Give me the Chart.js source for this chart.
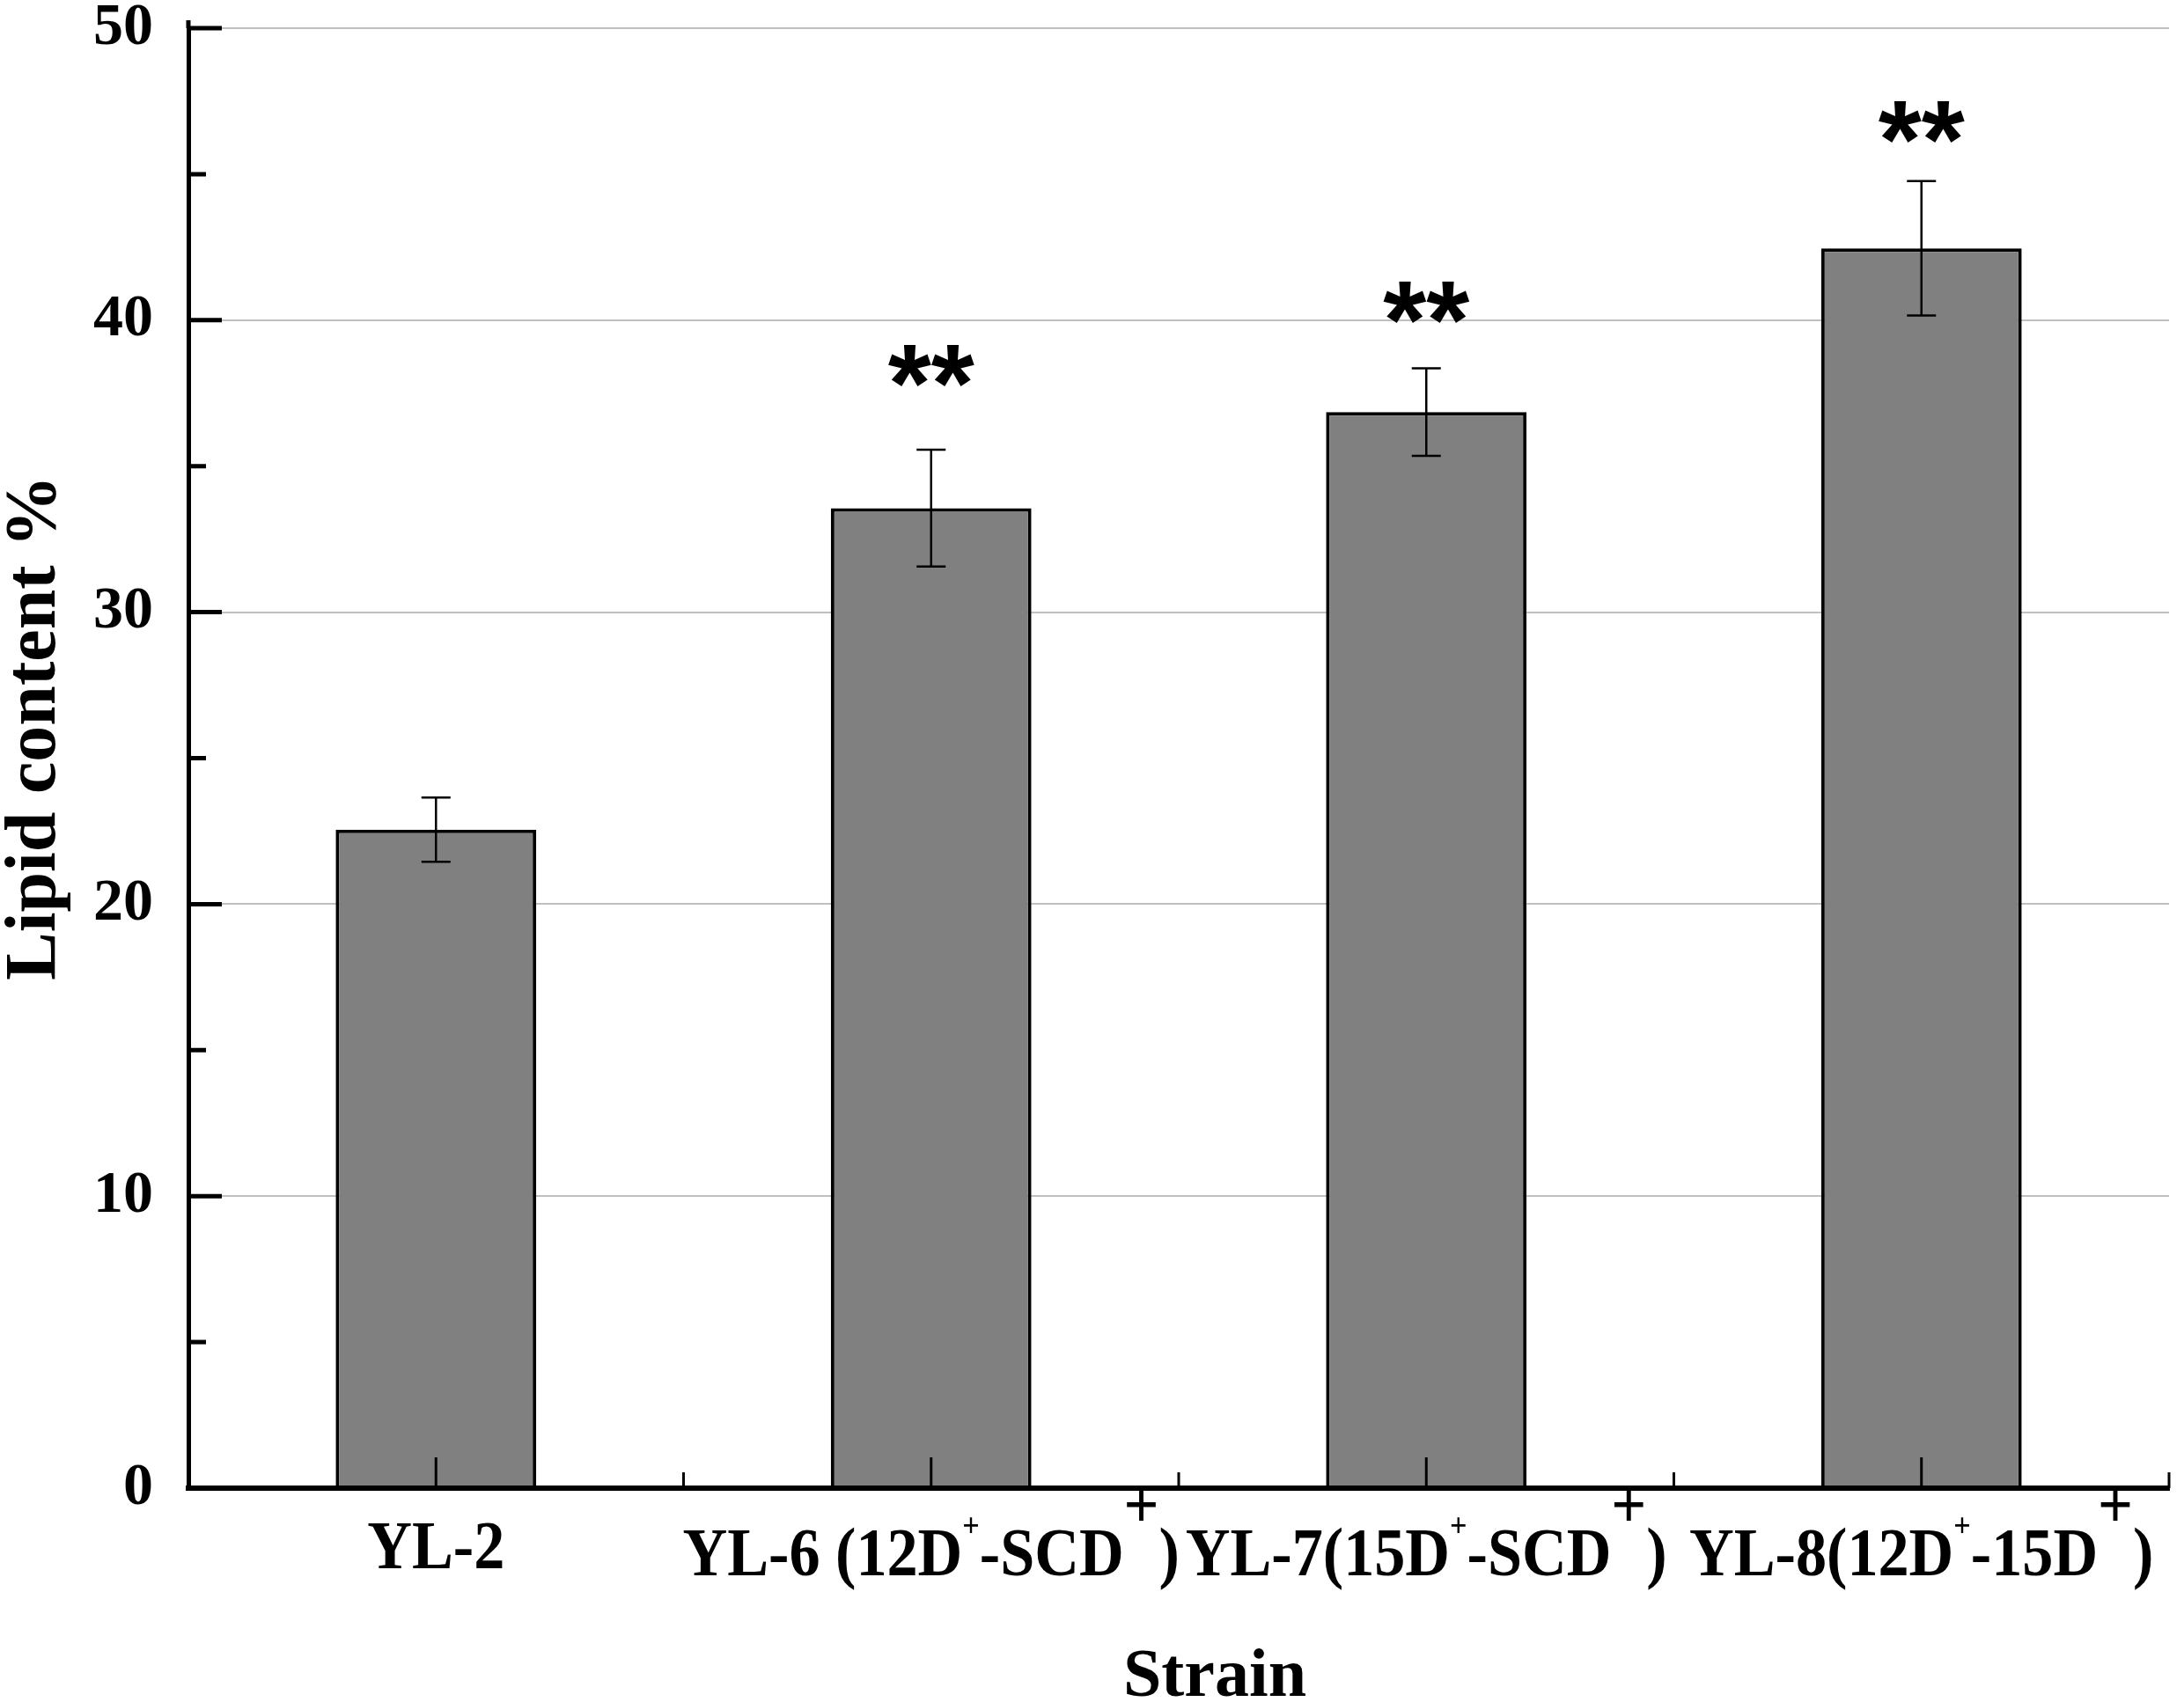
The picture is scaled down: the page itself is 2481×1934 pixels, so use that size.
<!DOCTYPE html>
<html><head><meta charset="utf-8">
<script src="https://cdn.jsdelivr.net/npm/chart.js@4.4.1/dist/chart.umd.min.js"></script>
<style>html,body{margin:0;padding:0;background:#fff;} canvas{display:block;}</style>
</head><body>
<canvas id="c" width="2481" height="1934" style="width:2481px;height:1934px"></canvas>
<script>
// ---- data ----
const categories = ['YL-2', 'YL-6 (12D⁺-SCD⁺)', 'YL-7(15D⁺-SCD⁺)', 'YL-8(12D⁺-15D⁺)'];
const lipidContent = [22.55, 33.56, 36.85, 42.46];
const lipidError = [1.1, 2.0, 1.5, 2.3];
const significance = ['', '**', '**', '**'];
const significanceY = [null, 38.45, 40.62, 46.8];
const yTicks = [0, 10, 20, 30, 40, 50];
const yMinorTicks = [5, 15, 25, 35, 45];
const xTitle = 'Strain';
const yTitle = 'Lipid content %';

const SERIF = '"Liberation Serif", "Times New Roman", Times, serif';
const SANS = '"Liberation Sans", Arial, sans-serif';

function drawRichLabel(ctx, text, cx, baseline) {
  const fs = 78, smallFs = 38, squeeze = 0.9;
  const segs = [];
  const chars = Array.from(text);
  let buf = '';
  for (let k = 0; k < chars.length; k++) {
    const ch = chars[k];
    if (ch === '⁺') {
      if (buf) { segs.push({ t: buf, kind: 'n' }); buf = ''; }
      segs.push({ t: '+', kind: chars[k + 1] === ')' ? 'big' : 'small' });
    } else buf += ch;
  }
  if (buf) segs.push({ t: buf, kind: 'n' });
  const fontFor = s => 'bold ' + (s.kind === 'small' ? smallFs : fs) + 'px ' + SERIF;
  let total = 0;
  segs.forEach(s => { ctx.font = fontFor(s); s.w = ctx.measureText(s.t).width; total += s.w; });
  ctx.save();
  ctx.translate(cx, baseline);
  ctx.scale(squeeze, 1);
  let xx = -total / 2;
  ctx.textAlign = 'left';
  ctx.textBaseline = 'alphabetic';
  segs.forEach(s => {
    ctx.font = fontFor(s);
    const raise = s.kind === 'small' ? 44 : (s.kind === 'big' ? 54 : 0);
    ctx.fillText(s.t, xx, -raise);
    xx += s.w;
  });
  ctx.restore();
}

const overlay = {
  id: 'overlay',
  afterDatasetsDraw(chart) {
    const { ctx, scales: { x, y } } = chart;
    ctx.save();
    ctx.strokeStyle = '#000';
    // error bars
    ctx.lineWidth = 2.5;
    lipidContent.forEach((v, i) => {
      const cx = x.getPixelForValue(i);
      const top = y.getPixelForValue(v + lipidError[i]);
      const bot = y.getPixelForValue(v - lipidError[i]);
      ctx.beginPath();
      ctx.moveTo(cx, top); ctx.lineTo(cx, bot);
      ctx.moveTo(cx - 16.5, top); ctx.lineTo(cx + 16.5, top);
      ctx.moveTo(cx - 16.5, bot); ctx.lineTo(cx + 16.5, bot);
      ctx.stroke();
    });
    // x-axis inward ticks
    const base = y.getPixelForValue(0);
    ctx.lineWidth = 3;
    ctx.beginPath();
    categories.forEach((c, i) => {
      const cx = x.getPixelForValue(i);
      ctx.moveTo(cx, base); ctx.lineTo(cx, base - 35);
      const bx = x.getPixelForValue(i + 0.5);
      ctx.moveTo(bx, base); ctx.lineTo(bx, base - 18);
    });
    ctx.stroke();
    // y-axis inward ticks
    const left = x.left;
    ctx.lineWidth = 5;
    ctx.beginPath();
    yTicks.forEach(v => { const py = y.getPixelForValue(v); ctx.moveTo(left, py); ctx.lineTo(left + 38, py); });
    yMinorTicks.forEach(v => { const py = y.getPixelForValue(v); ctx.moveTo(left, py); ctx.lineTo(left + 20, py); });
    // small overshoot of the y axis above the top tick
    ctx.moveTo(left, y.top); ctx.lineTo(left, y.top - 9);
    ctx.stroke();
    // significance stars
    ctx.fillStyle = '#000';
    ctx.font = 'bold 126px ' + SANS;
    ctx.textAlign = 'center';
    ctx.textBaseline = 'alphabetic';
    significance.forEach((s, i) => {
      if (!s) return;
      const cy = y.getPixelForValue(significanceY[i]);
      ctx.fillText(s, x.getPixelForValue(i), cy + 0.51 * 126);
    });
    ctx.restore();
  },
  afterDraw(chart) {
    const { ctx, scales: { x, y } } = chart;
    ctx.save();
    ctx.fillStyle = '#000';
    const base = y.getPixelForValue(0);
    categories.forEach((c, i) => {
      const hasSup = c.indexOf('⁺') >= 0;
      drawRichLabel(ctx, c, x.getPixelForValue(i), base + (hasSup ? 99 : 91));
    });
    // x title
    ctx.font = 'bold 78px ' + SERIF;
    ctx.textAlign = 'center';
    ctx.textBaseline = 'alphabetic';
    ctx.fillText(xTitle, 1380, 1927);
    // y title
    ctx.save();
    ctx.translate(62, 827);
    ctx.rotate(-Math.PI / 2);
    ctx.font = 'bold 82px ' + SERIF;
    ctx.fillText(yTitle, 0, 0);
    ctx.restore();
    ctx.restore();
  }
};

const chart = new Chart(document.getElementById('c').getContext('2d'), {
  type: 'bar',
  data: {
    labels: categories,
    datasets: [{
      data: lipidContent,
      backgroundColor: '#808080',
      borderColor: '#000',
      borderWidth: 4,
      borderSkipped: 'bottom',
      barPercentage: 0.405,
      categoryPercentage: 1.0
    }]
  },
  options: {
    responsive: false,
    animation: false,
    devicePixelRatio: 1,
    layout: { padding: { top: 32, right: 17, left: 0, bottom: 0 } },
    plugins: { legend: { display: false }, tooltip: { enabled: false } },
    scales: {
      x: {
        type: 'category',
        offset: true,
        grid: { display: false },
        border: { display: true, color: '#000', width: 6, z: 1 },
        ticks: { display: false },
        afterFit: s => { s.height = 243; s.paddingLeft = 0; s.paddingRight = 0; }
      },
      y: {
        min: 0, max: 50,
        grid: { color: '#c0c0c0', lineWidth: 2, drawTicks: false },
        border: { display: true, color: '#000', width: 5 },
        ticks: {
          stepSize: 10, padding: 40, color: '#000',
          font: { family: SERIF, weight: 'bold', size: 68, lineHeight: 0.9 }
        },
        afterBuildTicks: s => { s.ticks = yTicks.map(v => ({ value: v })); },
        afterFit: s => { s.width = 214; s.paddingTop = 0; s.paddingBottom = 0; }
      }
    }
  },
  plugins: [overlay]
});
</script>
</body></html>
